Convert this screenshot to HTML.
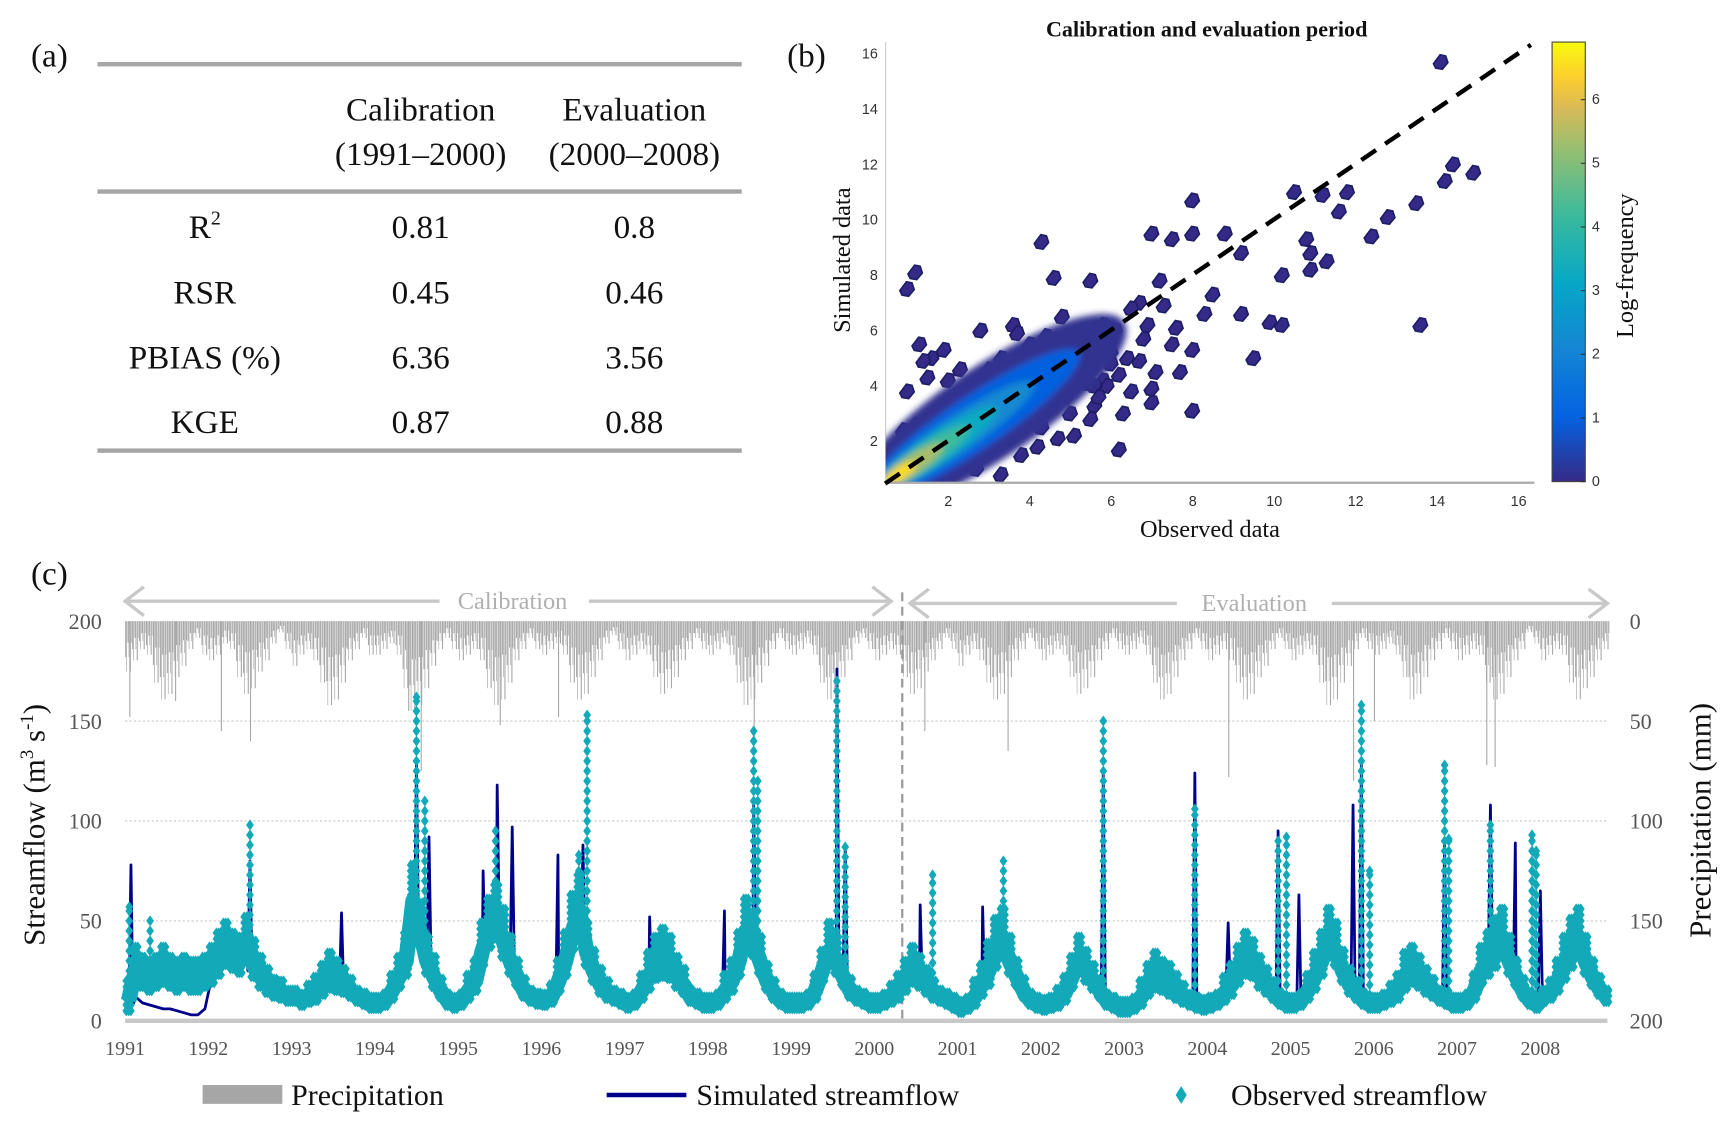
<!DOCTYPE html>
<html><head><meta charset="utf-8"><style>
html,body{margin:0;padding:0;background:#fff;}
svg{display:block;}
text{font-family:"Liberation Serif",serif;}
.tk{font-family:"Liberation Sans",sans-serif;font-size:13px;fill:#333;}
</style></head><body>
<svg id="fig" width="1727" height="1126" viewBox="0 0 1560 1017" preserveAspectRatio="none" xmlns="http://www.w3.org/2000/svg">
<defs><filter id="bl" x="-50%" y="-50%" width="200%" height="200%"><feGaussianBlur stdDeviation="3"/></filter>
<clipPath id="plotclip"><rect x="800" y="38" width="586" height="398"/></clipPath>
<linearGradient id="parula" x1="0" y1="1" x2="0" y2="0">
<stop offset="0" stop-color="#352A87"/><stop offset="0.15" stop-color="#0363E1"/><stop offset="0.3" stop-color="#1485D4"/><stop offset="0.45" stop-color="#06A7C6"/><stop offset="0.6" stop-color="#38B99E"/><stop offset="0.75" stop-color="#92BF73"/><stop offset="0.85" stop-color="#D9BA56"/><stop offset="0.92" stop-color="#FCCE2E"/><stop offset="1" stop-color="#F9FB0E"/></linearGradient></defs>

<g font-size="30" fill="#111">
<text x="28" y="60">(a)</text>
<rect x="88" y="56" width="582" height="4" fill="#a6a6a6"/>
<text x="380" y="109" text-anchor="middle">Calibration</text>
<text x="380" y="149" text-anchor="middle">(1991–2000)</text>
<text x="573" y="109" text-anchor="middle">Evaluation</text>
<text x="573" y="149" text-anchor="middle">(2000–2008)</text>
<rect x="88" y="171" width="582" height="4" fill="#a6a6a6"/>
<text x="185" y="215" text-anchor="middle">R<tspan font-size="18" dy="-12">2</tspan></text>
<text x="380" y="215" text-anchor="middle">0.81</text>
<text x="573" y="215" text-anchor="middle">0.8</text>
<text x="185" y="274" text-anchor="middle">RSR</text>
<text x="380" y="274" text-anchor="middle">0.45</text>
<text x="573" y="274" text-anchor="middle">0.46</text>
<text x="185" y="333" text-anchor="middle">PBIAS (%)</text>
<text x="380" y="333" text-anchor="middle">6.36</text>
<text x="573" y="333" text-anchor="middle">3.56</text>
<text x="185" y="391" text-anchor="middle">KGE</text>
<text x="380" y="391" text-anchor="middle">0.87</text>
<text x="573" y="391" text-anchor="middle">0.88</text>
<rect x="88" y="405" width="582" height="4" fill="#a6a6a6"/>
</g>

<g id="pb">
<text x="711" y="60" font-size="30" fill="#111">(b)</text>
<text x="1090" y="33" font-size="20" font-weight="bold" text-anchor="middle" fill="#111">Calibration and evaluation period</text>
<line x1="800" y1="38" x2="800" y2="436" stroke="#ccc" stroke-width="1"/>
<text x="1093" y="485" font-size="22" text-anchor="middle" fill="#111">Observed data</text>
<text transform="translate(768,235) rotate(-90)" font-size="22" text-anchor="middle" fill="#111">Simulated data</text>
<rect x="1402" y="38" width="30" height="397" fill="url(#parula)" stroke="#444" stroke-width="1"/>
<text transform="translate(1475,240) rotate(-90)" font-size="22" text-anchor="middle" fill="#111">Log-frequency</text>
</g>

<g id="pc">
<text x="28" y="528" font-size="30" fill="#111">(c)</text>
<g stroke="#c8c8c8" stroke-width="3" fill="none">
<line x1="113" y1="543" x2="397" y2="543"/><line x1="532" y1="543" x2="805" y2="543"/>
<polyline points="130,530 113,543 130,556"/><polyline points="788,530 805,543 788,556"/></g>
<text x="463" y="550" font-size="22" fill="#b0b0b0" text-anchor="middle">Calibration</text>
<g stroke="#c8c8c8" stroke-width="3" fill="none">
<line x1="822" y1="545" x2="1063" y2="545"/><line x1="1203" y1="545" x2="1452" y2="545"/>
<polyline points="839,532 822,545 839,558"/><polyline points="1435,532 1452,545 1435,558"/></g>
<text x="1133" y="552" font-size="22" fill="#b0b0b0" text-anchor="middle">Evaluation</text>
<text transform="translate(40,745) rotate(-90)" font-size="28" text-anchor="middle" fill="#111">Streamflow (m<tspan font-size="17" dy="-10">3</tspan><tspan dy="10"> s</tspan><tspan font-size="17" dy="-10">-1</tspan><tspan dy="10">)</tspan></text>
<text transform="translate(1545,741) rotate(-90)" font-size="28" text-anchor="middle" fill="#111">Precipitation (mm)</text>
<rect x="183" y="980" width="72" height="17" fill="#a6a6a6"/>
<text x="263" y="998" font-size="27" fill="#111">Precipitation</text>
<line x1="548" y1="989" x2="620" y2="989" stroke="#00008b" stroke-width="4"/>
<text x="629" y="998" font-size="27" fill="#111">Simulated streamflow</text>
<polygon points="1067,981 1072,989 1067,997 1062,989" fill="#12a9b8"/>
<text x="1112" y="998" font-size="27" fill="#111">Observed streamflow</text>
</g>
</svg>
<script>
const NS='http://www.w3.org/2000/svg';
function mk(tag,attrs,parent){const e=document.createElementNS(NS,tag);for(const k in attrs)e.setAttribute(k,attrs[k]);parent.appendChild(e);return e;}

// ---- Scatter data ----
const scObs=[14.1,14.4,14.9,14.2,13.5,12.8,11.8,11.2,10.5,11.6,10.8,10.9,12.4,11.3,10.2,9.2,8.0,8.0,7.0,7.5,8.8,4.3,1.2,1.0,3.6,4.6,5.5,7.2,6.7,8.5,9.2,9.9,10.2,13.6,9.5,10.9,6.0,7.5,8.0,7.1,6.5,7.0,8.0,7.7,6.2,1.3,1.9,2.8,3.3,3.9,4.8,5.2,5.8,4.3,5.0,5.5,3.8,3.3,2.4,1.0,1.5,2.2,5.8,6.8,4.5,3.6,5.3,6.1,4.9,6.4,5.6,4.0,3.0,2.7,1.6,2.0,4.7,5.9,
6.5,6.9,7.3,6.0,5.4,4.6,5.1,6.3,7.6,8.3,4.2,3.4,2.6,1.8,1.2,0.9,1.4,2.3,3.1,4.4,5.6,6.7,7.0,5.0,3.7,2.9,4.1,5.7,6.2,3.3];
const scSim=[15.7,12.0,11.7,11.4,10.6,10.1,11.0,10.9,11.0,10.3,9.3,8.8,9.4,8.5,8.0,8.8,9.5,10.7,9.5,9.3,9.5,9.2,8.1,7.5,6.2,7.9,7.8,7.8,7.0,7.3,6.6,6.3,6.2,6.2,5.0,8.2,5.2,5.5,5.3,4.5,3.8,3.4,3.1,4.5,1.7,5.5,5.3,6.0,5.0,4.8,6.5,5.8,6.2,2.5,3.0,2.8,1.5,0.8,2.8,3.8,4.3,3.5,4.2,5.7,4.3,3.2,4.8,6.0,3.6,5.0,3.3,5.5,4.6,1.0,5.0,4.2,2.1,4.0,
6.8,6.2,6.9,4.8,4.1,3.7,2.2,3.0,6.1,6.6,1.8,2.0,1.5,3.2,2.6,2.4,4.9,4.6,4.3,5.8,4.0,4.9,3.9,5.3,5.9,4.0,3.1,3.6,4.4,1.9];
const scFreq=new Array(108).fill(0);
// density core levels (center obs, center sim, log-frequency, major/minor radius in data units)
const coreObs=[3.0,2.6,2.1,1.7,1.4,1.1,0.8];
const coreSim=[3.0,2.6,2.1,1.7,1.4,1.1,0.8];
const coreFreq=[0.1,1.0,2.2,3.2,4.2,5.4,6.5];
const coreMaj=[3.3,2.6,2.0,1.5,1.1,0.75,0.4];
const coreMin=[1.4,0.8,0.55,0.45,0.35,0.28,0.2];
const scTicks=[2,4,6,8,10,12,14,16];
const cbTicks=[0,1,2,3,4,5,6];

const sx=v=>783+v*36.8, sy=v=>448-v*25;
const cby=v=>435-v*57.5;
const pStops=[[0,'#352A87'],[0.15,'#0363E1'],[0.3,'#1485D4'],[0.45,'#06A7C6'],[0.6,'#38B99E'],[0.75,'#92BF73'],[0.85,'#D9BA56'],[0.92,'#FCCE2E'],[1,'#F9FB0E']];
function hex(h){return [1,3,5].map(i=>parseInt(h.substr(i,2),16));}
function parula(f){const t=Math.max(0,Math.min(1,f/6.9));for(let i=1;i<pStops.length;i++){if(t<=pStops[i][0]){const a=pStops[i-1],b=pStops[i];const u=(t-a[0])/(b[0]-a[0]);const A=hex(a[1]),B=hex(b[1]);return 'rgb('+A.map((c,j)=>Math.round(c+(B[j]-c)*u)).join(',')+')';}}return pStops[8][1];}

const pb=document.getElementById('pb');
const clipG=mk('g',{'clip-path':'url(#plotclip)'},pb);


const gPts=mk('g',{},clipG);


scObs.forEach((o,i)=>{const px=sx(o),py=sy(scSim[i]);
const p=mk('path',{d:`M${px-7},${py+2} L${px-1},${py-6} L${px+4},${py-5} L${px+6},${py+1} L${px+1},${py+7} L${px-5},${py+6} Z`,fill:parula(scFreq[i]),stroke:'#1e1e66','stroke-width':1.5},gPts);

});
const gCore=mk('g',{filter:'url(#bl)'},clipG);


coreObs.forEach((o,i)=>{
const cx=sx(o),cy=sy(coreSim[i]);
const rx=coreMaj[i]*44.6, ry=coreMin[i]*30;
const c=mk('ellipse',{cx:cx,cy:cy,rx:rx,ry:ry,fill:parula(coreFreq[i]),transform:`rotate(-34 ${cx} ${cy})`},gCore);

});
const xa=mk('line',{x1:800,y1:436,x2:1386,y2:436,stroke:'#aaa','stroke-width':2},pb);


const dl=mk('line',{x1:sx(0.45),y1:sy(0.45),x2:sx(16.3),y2:sy(16.3),stroke:'#000','stroke-width':4,'stroke-dasharray':'16,10'},pb);


scTicks.forEach(v=>{const t=mk('text',{x:sx(v),y:457,'text-anchor':'middle',class:'tk'},pb);t.textContent=v;


const u=mk('text',{x:793,y:sy(v)+5,'text-anchor':'end',class:'tk'},pb);u.textContent=v;

});
cbTicks.forEach(v=>{const t=mk('text',{x:1438,y:cby(v)+4,class:'tk','font-size':'11'},pb);t.textContent=v;


const l=mk('line',{x1:1428,x2:1432,y1:cby(v),y2:cby(v),stroke:'#333'},pb);

});

// ---- Time series data ----
const years=[1991,1992,1993,1994,1995,1996,1997,1998,1999,2000,2001,2002,2003,2004,2005,2006,2007,2008];
const obsMonthly=[
10,25,22,20,22,25,22,20,22,20,20,22,
25,30,35,32,30,38,28,22,18,15,14,12,
12,10,12,14,18,22,20,18,15,12,10,8,
8,10,15,22,30,60,45,30,22,15,10,8,
10,15,20,35,45,50,40,30,22,15,12,10,
10,12,20,30,45,55,35,25,18,14,12,10,
8,10,15,22,28,30,28,22,18,12,10,8,
8,10,15,20,30,45,40,30,20,14,10,8,
8,8,10,15,25,35,30,22,15,12,10,8,
8,10,12,15,20,25,22,18,14,12,10,8,
6,8,12,18,25,35,40,30,22,15,10,8,
7,8,10,14,22,30,25,20,15,10,8,6,
6,8,12,18,22,20,18,15,12,10,8,7,
8,10,14,18,25,30,28,22,18,14,10,8,
8,10,15,22,30,40,35,25,18,14,10,8,
8,10,12,15,22,25,22,18,15,12,10,8,
8,10,15,25,30,35,40,30,22,15,10,8,
12,14,20,28,35,40,30,22,16,12];
const obsSpread=[
10,12,10,10,10,12,10,10,10,10,10,10,
12,14,14,12,12,14,12,10,8,6,6,5,
5,5,6,8,10,12,10,8,6,5,4,4,
4,5,8,10,14,18,14,12,10,6,5,4,
5,8,10,14,16,18,16,12,8,6,5,4,
5,6,10,14,18,18,14,10,8,6,5,4,
4,5,8,12,14,16,14,10,8,5,4,4,
4,5,8,10,14,16,14,12,8,6,4,4,
4,4,5,8,10,14,12,8,6,5,4,4,
4,5,6,8,10,12,10,8,6,5,4,4,
4,5,8,10,14,16,16,12,8,6,4,4,
4,4,6,8,10,12,10,8,6,5,4,4,
4,5,8,10,12,10,10,8,6,5,4,4,
4,5,8,10,12,14,12,10,8,6,4,4,
4,5,8,12,14,16,14,10,8,6,4,4,
4,5,6,8,12,12,10,8,6,5,4,4,
4,5,8,12,14,16,16,12,8,6,4,4,
5,6,10,14,16,16,12,8,6,5];
const simMonthly=[
8,12,9,8,7,6,6,5,4,3,3,6,
22,28,33,30,28,35,25,20,16,13,12,11,
11,9,11,13,17,21,20,17,14,11,9,7,
7,9,14,21,30,58,42,28,20,14,9,7,
9,14,19,33,44,48,38,28,20,14,11,9,
9,11,19,29,44,52,33,23,17,13,11,9,
7,9,14,21,27,29,27,21,17,11,9,7,
7,9,14,19,29,44,38,28,19,13,9,7,
7,7,9,14,24,33,28,21,14,11,9,7,
7,9,11,14,19,24,21,17,13,11,9,7,
5,7,11,17,24,33,38,28,21,14,9,7,
6,7,9,13,21,29,24,19,14,9,7,5,
5,7,11,17,21,19,17,14,11,9,7,6,
7,9,13,17,24,29,27,21,17,13,9,7,
7,9,14,21,29,38,33,23,17,13,9,7,
7,9,11,14,21,24,21,17,14,11,9,7,
7,9,14,24,29,33,38,28,21,14,9,7,
11,13,19,27,33,38,28,21,15,11];
const simSpikeT=[1991.07,1992.5,1993.6,1994.5,1994.65,1995.3,1995.47,1995.65,1996.2,1996.5,1997.3,1998.2,1998.55,1999.55,1999.65,2000.55,2001.3,2002.75,2003.85,2004.25,2004.85,2005.1,2005.75,2005.85,2006.85,2007.4,2007.7,2008.0];
const simSpikeV=[78,80,54,130,92,75,118,97,83,88,52,55,110,176,88,58,57,124,124,49,95,63,108,129,91,108,89,65];
const obsSpikeT=[1991.05,1991.3,1992.5,1994.5,1994.6,1995.45,1996.45,1996.55,1998.55,1998.6,1999.55,1999.65,2000.7,2001.55,2002.75,2003.85,2004.85,2004.95,2005.85,2005.95,2006.85,2006.9,2007.4,2007.9,2007.95];
const obsSpikeV=[57,50,98,162,110,95,83,153,145,120,170,87,73,80,150,106,90,92,158,75,128,91,98,93,85];
const precipMonthly=[
18,14,10,12,22,28,26,20,16,10,6,12,
14,12,8,10,20,26,24,18,14,8,4,10,
16,12,10,14,22,30,28,22,14,10,6,12,
12,10,8,12,24,32,30,24,16,10,6,10,
14,12,10,14,24,30,28,22,14,10,6,10,
12,10,8,12,22,28,26,20,14,8,5,10,
14,12,10,12,20,26,24,20,14,10,6,10,
12,10,8,12,22,30,28,22,16,10,6,10,
12,10,8,12,22,28,26,20,14,8,6,10,
14,12,10,12,20,26,24,18,14,10,6,10,
16,12,10,14,22,28,26,20,14,10,6,10,
14,12,10,12,20,26,24,20,14,10,6,10,
12,10,8,12,22,28,26,20,14,10,6,10,
14,12,10,14,22,28,26,20,16,10,6,10,
14,12,10,12,22,30,28,22,16,10,6,10,
12,10,8,12,20,28,26,20,14,10,6,10,
14,12,10,12,22,28,26,20,14,10,4,8,
14,12,10,12,22,28,24,20,14,10];
const precipSpikeT=[1991.05,1991.6,1992.15,1992.5,1994.4,1994.55,1995.5,1996.2,1998.55,2000.6,2001.6,2004.25,2005.75,2006.0,2007.35,2007.45];
const precipSpikeV=[48,40,55,60,45,75,52,48,62,55,65,78,80,50,72,73];
const leftTicks=[0,50,100,150,200];
const rightTicks=[0,50,100,150,200];

const xT=t=>113+(t-1991)*75.2;
const yS=v=>922-v*1.805;
const yP=v=>561+v*1.805;
const pc=document.getElementById('pc');
const monthT=i=>1991+(i+0.5)/12;

[50,100,150].forEach(v=>{const g=mk('line',{x1:113,x2:1452,y1:yS(v),y2:yS(v),stroke:'#c8c8c8','stroke-width':1,'stroke-dasharray':'2,2'},pc);

});
const gP=mk('g',{fill:'#b4b4b4'},pc);


precipMonthly.forEach((v,i)=>{const x=xT(monthT(i));
for(let k=0;k<6;k++){const w=(k%2?0.6:1);const b=mk('rect',{x:x-3.1+k*1.05,y:561,width:w,height:v*1.805*(k%3===1?1.4:(k%3===2?0.6:1)),fill:'#a8a8a8'},gP);

}});
precipSpikeT.forEach((t,i)=>{const b=mk('rect',{x:xT(t),y:561,width:1,height:precipSpikeV[i]*1.805,fill:'#a8a8a8'},gP);

});
const dv=mk('line',{x1:815,x2:815,y1:535,y2:922,stroke:'#999','stroke-width':2,'stroke-dasharray':'8,5'},pc);


function baseAt(arr,t){let i=Math.round((t-1991)*12-0.5);i=Math.max(0,Math.min(arr.length-1,i));return arr[i];}
let simPts=simMonthly.map((v,i)=>[monthT(i),v]);
simSpikeT.forEach((t,i)=>{const b=baseAt(simMonthly,t);simPts.push([t-0.025,b],[t,simSpikeV[i]],[t+0.025,b]);});
simPts.sort((a,b)=>a[0]-b[0]);
const simLine=mk('polyline',{points:simPts.map(p=>xT(p[0]).toFixed(1)+','+yS(p[1]).toFixed(1)).join(' '),fill:'none',stroke:'#00008b','stroke-width':2.5,'stroke-linejoin':'round'},pc);


const gO=mk('g',{fill:'#12a9b8'},pc);


const obsBand=mk('polyline',{points:obsMonthly.map((v,i)=>xT(monthT(i)).toFixed(1)+','+yS(v).toFixed(1)).join(' '),fill:'none',stroke:'#12a9b8','stroke-width':14,'stroke-linejoin':'round'},gO);


function dia(x,y){const d=mk('polygon',{points:`${x},${y-5} ${x+3.5},${y} ${x},${y+5} ${x-3.5},${y}`},gO);

}
obsMonthly.forEach((v,i)=>{const x=xT(monthT(i)),s=obsSpread[i];
for(let k=-1;k<=1;k++){const xx=x+k*2.1;for(let u=v-s*0.5;u<=v+s;u+=3)dia(xx,yS(u));}});
obsSpikeT.forEach((t,i)=>{const b=baseAt(obsMonthly,t),p=obsSpikeV[i];for(let v=b;v<p;v+=5)dia(xT(t),yS(v));dia(xT(t),yS(p));});
const ax=mk('line',{x1:113,x2:1452,y1:922,y2:922,stroke:'#c8c8c8','stroke-width':4},pc);


years.forEach(y=>{const t=mk('text',{x:xT(y),y:953,'text-anchor':'middle','font-size':'18',fill:'#555'},pc);t.textContent=y;

});
leftTicks.forEach(v=>{const t=mk('text',{x:92,y:yS(v)+7,'text-anchor':'end','font-size':'20',fill:'#555'},pc);t.textContent=v;

});
rightTicks.forEach(v=>{const t=mk('text',{x:1472,y:yP(v)+7,'font-size':'20',fill:'#555'},pc);t.textContent=v;

});
</script>
</body></html>
